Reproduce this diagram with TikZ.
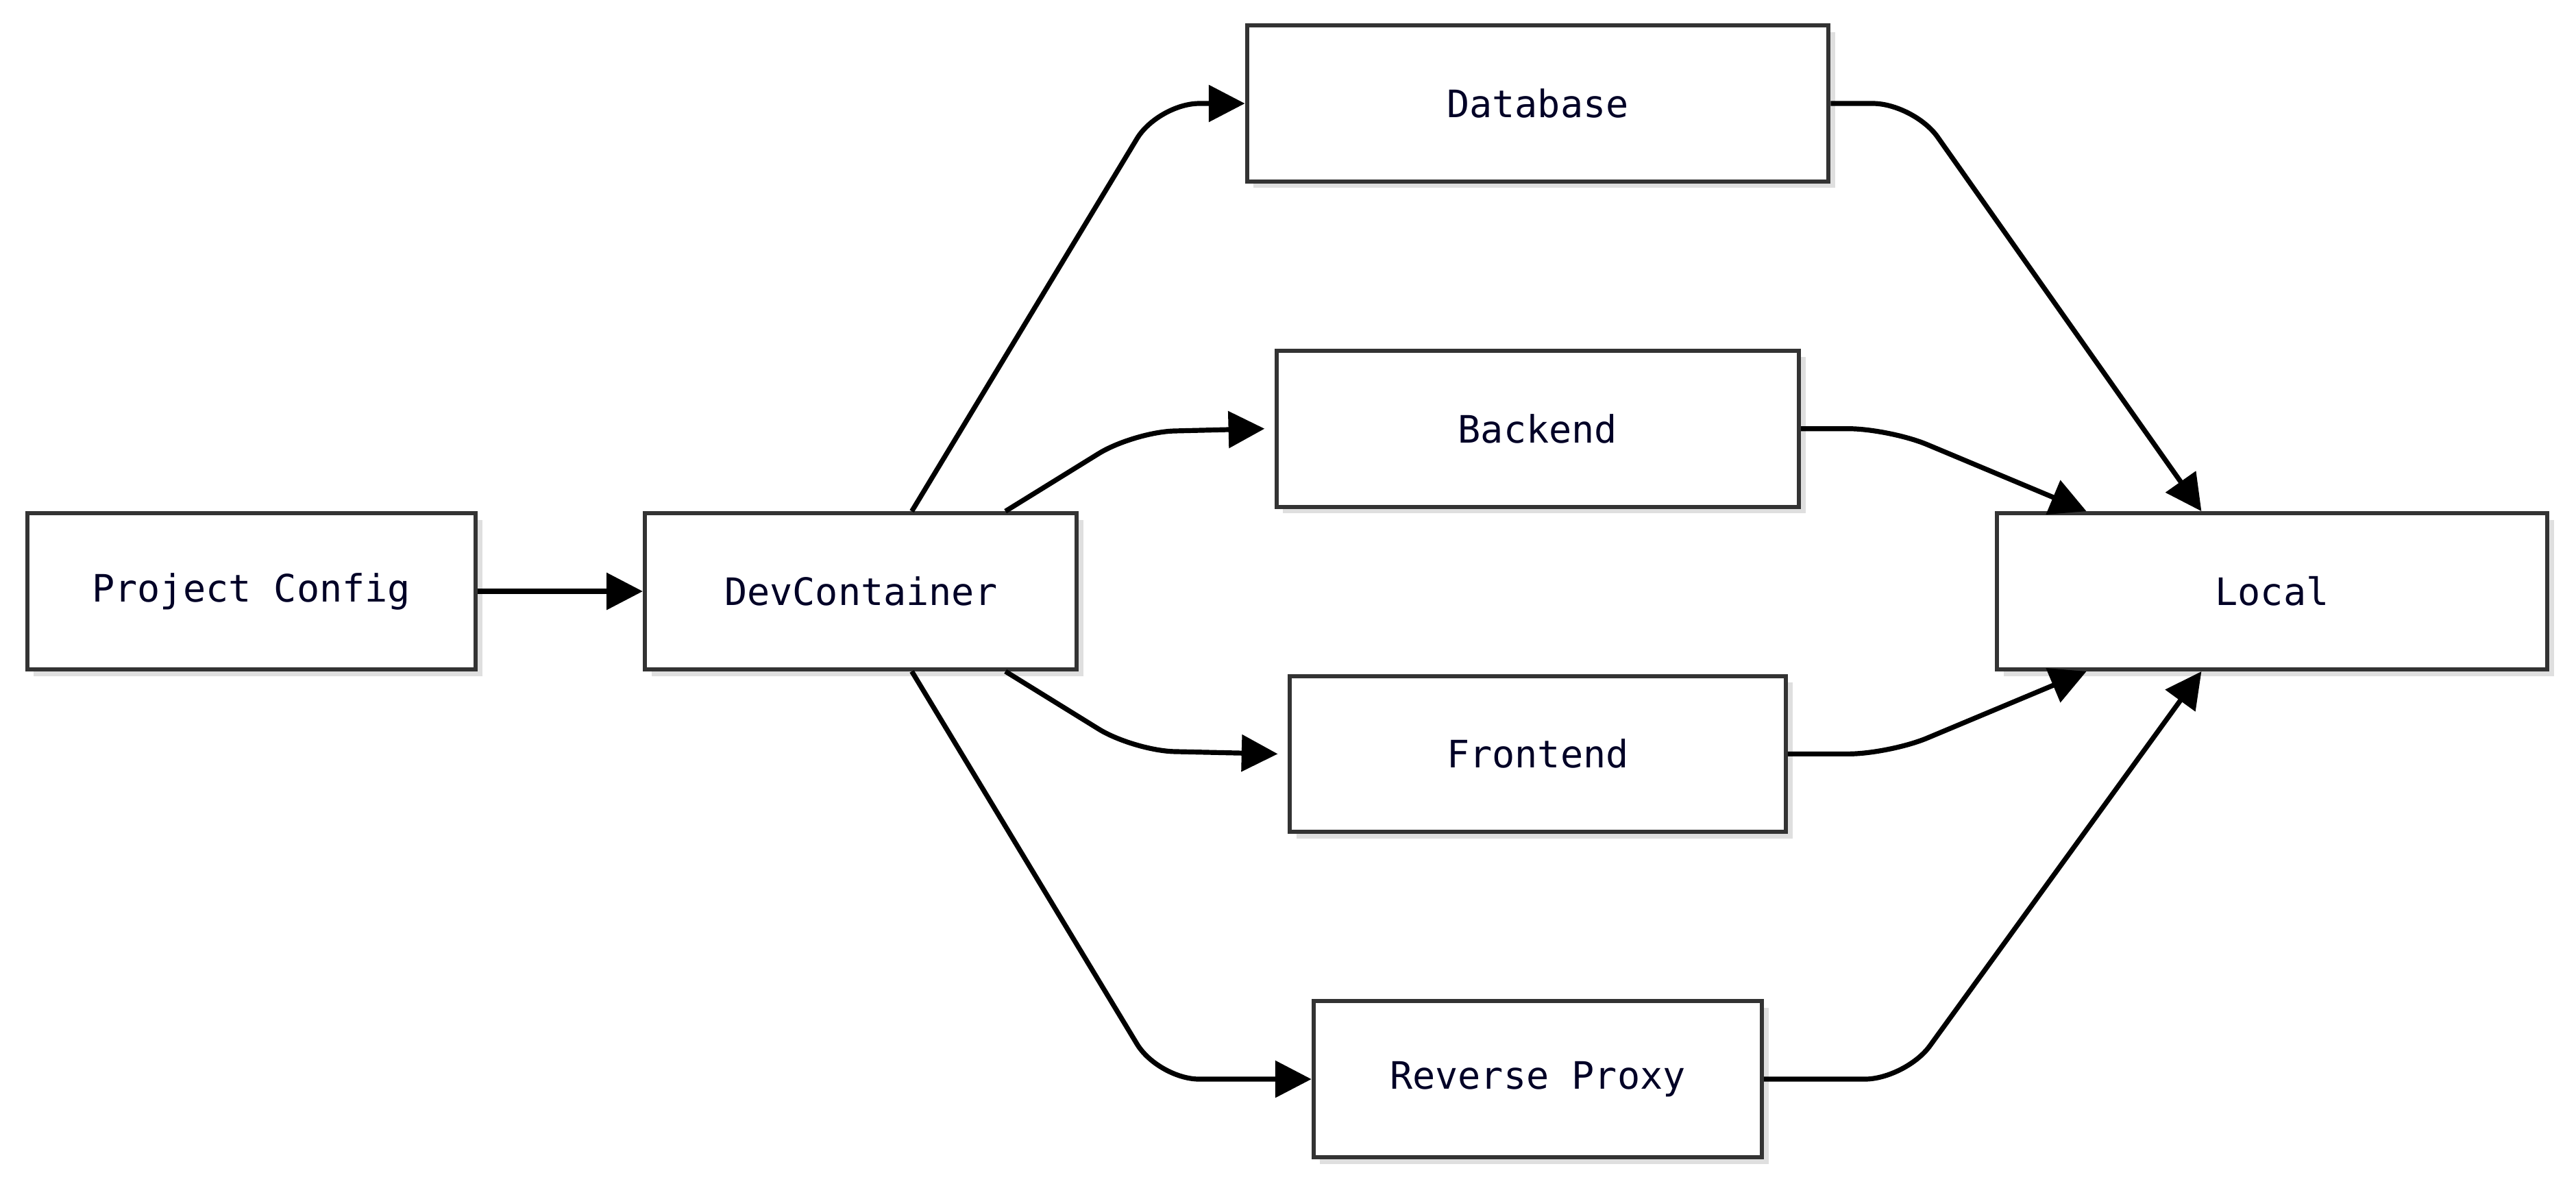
\documentclass[tikz,border=0pt]{standalone}
\usepackage{fontspec}
\setmainfont{DejaVu Sans Mono}
\usetikzlibrary{arrows.meta,shadows}
\begin{document}
\begin{tikzpicture}[x=1pt,y=-1pt,
  box/.style={draw=black!80,line width=2.5pt,fill=white,minimum height=95pt,
    font=\fontsize{23}{28}\selectfont,text=black!85!blue,
    drop shadow={shadow xshift=4pt,shadow yshift=-4pt,fill=black!25}},
  e/.style={line width=3pt,rounded corners=25pt,-{Triangle[length=22pt,width=22pt]}}]
\useasboundingbox (0,0) rectangle (1568,722);
\node[box,minimum width=273pt] (pc) at (153,360) {Project Config};
\node[box,minimum width=263pt] (dev) at (524,360) {DevContainer};
\node[box,minimum width=354pt] (db) at (936,63) {Database};
\node[box,minimum width=318pt] (be) at (936,261) {Backend};
\node[box,minimum width=302pt] (fe) at (936,459) {Frontend};
\node[box,minimum width=273pt] (rp) at (936,657) {Reverse Proxy};
\node[box,minimum width=335pt] (lo) at (1383,360) {Local};
\draw[e] (pc) -- (dev);
\draw[e] ([xshift=31pt]dev.north) -- (705,63) -- (db.west);
\draw[e] ([xshift=88pt]dev.north) -- (690,263) -- ([xshift=-6pt]be.west);
\draw[e] ([xshift=88pt]dev.south) -- (690,457) -- ([xshift=-6pt]fe.west);
\draw[e] ([xshift=31pt]dev.south) -- (705,657) -- (rp.west);
\draw[e] (db.east) -- (1165,63) -- ([xshift=-43pt]lo.north);
\draw[e] (be.east) -- (1150,261) -- ([xshift=-113pt]lo.north);
\draw[e] (fe.east) -- (1150,459) -- ([xshift=-113pt]lo.south);
\draw[e] (rp.east) -- (1160,657) -- ([xshift=-43pt]lo.south);
\end{tikzpicture}
\end{document}
